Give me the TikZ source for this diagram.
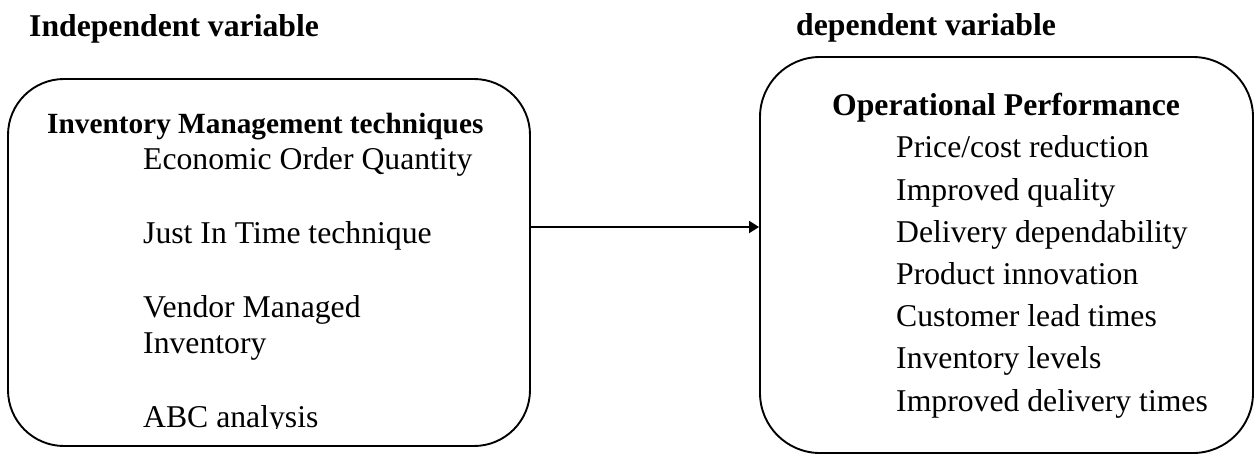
\documentclass[tikz,border=0pt]{standalone}
\usepackage{fontspec}
\setmainfont{Liberation Serif}
\usetikzlibrary{arrows.meta}
\tikzset{
  txt/.style={anchor=base west, inner sep=0pt, font=\fontsize{31.7}{37}\selectfont},
  btxt/.style={txt, font=\fontsize{31.7}{37}\selectfont\bfseries},
  sbtxt/.style={txt, font=\fontsize{29.3}{35}\selectfont\bfseries},
  vbox/.style={draw, line width=1.9pt, inner sep=0pt},
  link/.style={line width=2pt, -{Triangle[length=10pt,width=12pt]}}
}
\begin{document}
\begin{tikzpicture}[x=1pt, y=-1pt]
\useasboundingbox (0,0) rectangle (1256,456);
% boxes
\node[vbox, rounded corners=56pt, minimum width=522pt, minimum height=367pt] (lbox) at (269,262.5) {};
\node[vbox, rounded corners=60pt, minimum width=493pt, minimum height=396pt] (rbox) at (1006.5,255) {};
% headings
\node[btxt] (iv) at (29,36) {Independent variable};
\node[btxt] (dv) at (796,35) {dependent variable};
% left box text
\node[sbtxt] (imt) at (47,133) {Inventory Management techniques};
\node[txt] (eoq) at (143,169) {Economic Order Quantity};
\node[txt] (jit) at (143,243) {Just In Time technique};
\node[txt] (vmi1) at (143,317) {Vendor Managed};
\node[txt] (vmi2) at (143,353) {Inventory};
\begin{scope}
\clip (0,0) rectangle (530,428);
\node[txt] (abc) at (143,427) {ABC analysis};
\end{scope}
% right box text
\node[btxt] (op) at (832,115) {Operational Performance};
\node[txt] (r1) at (896,157) {Price/cost reduction};
\node[txt] (r2) at (896,200) {Improved quality};
\node[txt] (r3) at (896,242) {Delivery dependability};
\node[txt] (r4) at (896,284) {Product innovation};
\node[txt] (r5) at (896,326) {Customer lead times};
\node[txt] (r6) at (896,368) {Inventory levels};
\node[txt] (r7) at (896,411) {Improved delivery times};
% connector
\coordinate (ay) at (0,227);
\draw[link] (lbox.east |- ay) -- (rbox.west |- ay);
\end{tikzpicture}
\end{document}
